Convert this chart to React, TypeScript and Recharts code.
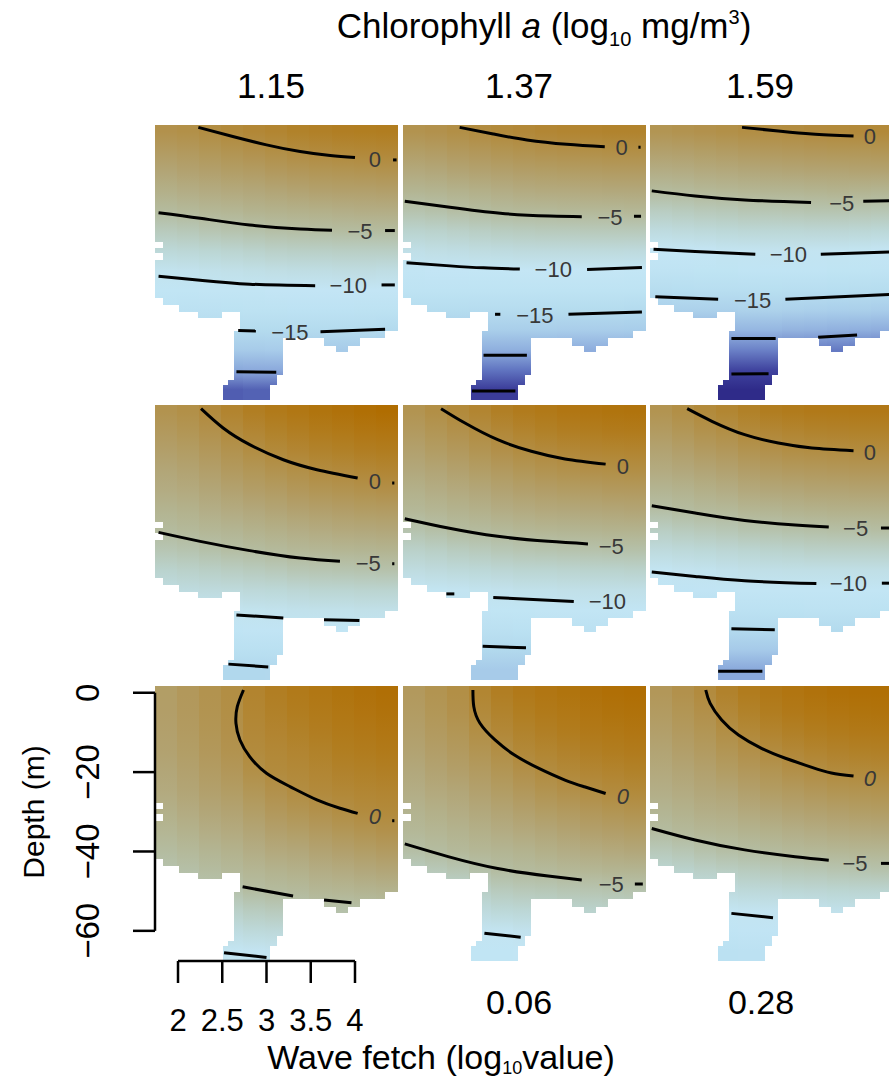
import React from "react";
import {
  ComposedChart,
  XAxis,
  YAxis,
  Line,
  Scatter,
  ReferenceArea,
  ReferenceLine,
} from "recharts";

// plot domain shared by all nine panels
const X_MIN = 1.74;
const X_MAX = 4.486;
const D_MIN = -67.6;
const D_MAX = 1.7;

const fetchTicks = [2, 2.5, 3, 3.5, 4];
const depthTicks = [0, -20, -40, -60];

const chlLabels = ["1.15", "1.37", "1.59"];
const bottomLabels = ["", "0.06", "0.28"];

// heatmap columns (centre, log10 fetch) and depth nodes (m)
const columnCentres = [1.86, 2.11, 2.36, 2.61, 2.86, 3.11, 3.36, 3.61, 3.86, 4.11, 4.36];
const depthNodes = [0, -5, -10, -15, -20, -25, -30, -35, -40, -45, -50, -55, -60, -65];

// cells without data (white): [x1, x2, top depth, bottom depth]
const noData: [number, number, number, number][] = [
  [1.74, 1.816, -27.8, -29.3],
  [1.74, 1.816, -30.6, -32.3],
  [1.74, 1.816, -41.9, -67.6],
  [1.816, 2.003, -43.6, -67.6],
  [2.003, 2.211, -45.3, -67.6],
  [2.211, 2.494, -47.0, -67.6],
  [2.494, 2.557, -45.3, -63.8],
  [2.557, 2.625, -45.3, -62.5],
  [2.625, 2.693, -45.3, -50.3],
  [3.039, 3.115, -63.8, -67.6],
  [3.115, 3.19, -61.2, -67.6],
  [3.19, 3.642, -52.0, -67.6],
  [3.642, 3.774, -53.9, -67.6],
  [3.774, 3.924, -55.6, -67.6],
  [3.924, 4.056, -53.9, -67.6],
  [4.056, 4.339, -52.0, -67.6],
  [4.339, 4.486, -50.3, -67.6],
];

type Grid = (number | null)[][];
type Pt = [number, number];
type Lab = [number, number, string];

// rows = depthNodes, columns = columnCentres
const fieldR0C0: Grid = [
  [-0.6, -0.4, -0.1, 0.3, 0.6, 0.9, 1.3, 1.5, 1.7, 1.8, 1.9],
  [-1.7, -1.5, -1.2, -0.9, -0.6, -0.3, 0.0, 0.2, 0.4, 0.5, 0.6],
  [-2.8, -2.5, -2.3, -2.0, -1.8, -1.5, -1.3, -1.1, -1.0, -0.9, -0.8],
  [-3.8, -3.6, -3.4, -3.2, -3.0, -2.8, -2.6, -2.4, -2.3, -2.3, -2.2],
  [-4.9, -4.7, -4.5, -4.4, -4.1, -4.0, -3.9, -3.8, -3.7, -3.6, -3.6],
  [-6.4, -6.2, -5.9, -5.7, -5.5, -5.3, -5.2, -5.1, -5.0, -5.0, -5.0],
  [-7.9, -7.8, -7.6, -7.4, -7.2, -7.0, -6.9, -6.9, -6.8, -6.8, -6.8],
  [-9.5, -9.4, -9.2, -9.1, -8.9, -8.8, -8.7, -8.7, -8.6, -8.6, -8.7],
  [-11.1, -11.1, -11.0, -10.9, -10.8, -10.6, -10.6, -10.5, -10.5, -10.6, -10.6],
  [-12.7, -13.0, -13.0, -12.9, -12.8, -12.8, -12.7, -12.7, -12.7, -12.8, -12.8],
  [-14.3, -14.9, -14.9, -15.0, -14.9, -14.9, -14.9, -14.9, -14.9, -15.0, -15.1],
  [null, null, null, -17.4, -17.3, -17.2, -17.3, -17.3, -17.3, -17.4, -17.5],
  [null, null, null, -19.8, -19.7, -19.7, null, null, null, null, null],
  [null, null, null, -23.2, -23.0, -23.0, null, null, null, null, null],
];

const fieldR0C1: Grid = [
  [-0.8, -0.6, -0.3, 0.0, 0.3, 0.5, 0.7, 0.9, 1.0, 1.1, 1.1],
  [-2.0, -1.8, -1.5, -1.3, -1.0, -0.8, -0.6, -0.5, -0.4, -0.3, -0.3],
  [-3.2, -3.0, -2.7, -2.5, -2.3, -2.1, -2.0, -1.9, -1.8, -1.7, -1.7],
  [-4.3, -4.2, -4.0, -3.8, -3.6, -3.4, -3.3, -3.3, -3.2, -3.1, -3.1],
  [-5.7, -5.5, -5.2, -5.0, -4.8, -4.7, -4.7, -4.6, -4.6, -4.6, -4.5],
  [-7.3, -7.2, -7.0, -6.8, -6.6, -6.5, -6.4, -6.4, -6.3, -6.3, -6.3],
  [-9.0, -8.8, -8.7, -8.5, -8.4, -8.3, -8.3, -8.3, -8.2, -8.2, -8.3],
  [-10.7, -10.6, -10.5, -10.3, -10.3, -10.2, -10.1, -10.1, -10.1, -10.2, -10.3],
  [-12.6, -12.5, -12.5, -12.5, -12.4, -12.4, -12.4, -12.5, -12.5, -12.6, -12.6],
  [-14.4, -14.5, -14.5, -14.6, -14.6, -14.6, -14.7, -14.8, -14.8, -14.8, -14.9],
  [-16.7, -16.7, -16.7, -16.9, -16.9, -16.9, -16.9, -17.0, -17.0, -17.0, -17.1],
  [null, null, null, -19.4, -19.4, -19.4, -19.4, -19.5, -19.5, -19.5, -19.6],
  [null, null, null, -22.1, -22.1, -22.1, null, null, null, null, null],
  [null, null, null, -24.8, -24.8, -24.8, null, null, null, null, null],
];

const fieldR0C2: Grid = [
  [-1.0, -0.8, -0.6, -0.4, -0.2, -0.1, 0.0, 0.2, 0.3, 0.35, 0.4],
  [-2.3, -2.2, -2.0, -1.8, -1.6, -1.5, -1.4, -1.3, -1.2, -1.2, -1.1],
  [-3.6, -3.5, -3.3, -3.2, -3.0, -2.9, -2.8, -2.7, -2.7, -2.6, -2.6],
  [-4.9, -4.8, -4.6, -4.5, -4.4, -4.3, -4.3, -4.2, -4.1, -4.2, -4.3],
  [-6.7, -6.5, -6.3, -6.2, -6.0, -6.0, -5.9, -5.8, -5.8, -5.9, -6.0],
  [-8.4, -8.2, -8.1, -7.9, -7.8, -7.8, -7.8, -7.7, -7.7, -7.8, -7.9],
  [-10.1, -10.0, -9.9, -9.7, -9.7, -9.6, -9.6, -9.7, -9.7, -9.8, -9.9],
  [-12.2, -12.1, -12.0, -11.9, -11.8, -11.8, -11.8, -11.8, -11.9, -12.0, -12.2],
  [-14.3, -14.2, -14.1, -14.0, -14.0, -13.9, -14.0, -14.1, -14.2, -14.3, -14.5],
  [-16.7, -16.5, -16.4, -16.4, -16.3, -16.3, -16.4, -16.6, -16.7, -16.8, -17.0],
  [-19.0, -19.0, -18.9, -18.9, -18.9, -18.9, -19.1, -19.2, -19.3, -19.4, -19.5],
  [null, null, null, -21.6, -21.6, -21.6, -21.7, -21.8, -21.9, -22.0, -22.1],
  [null, null, null, -24.4, -24.4, -24.4, null, null, null, null, null],
  [null, null, null, -27.2, -27.2, -27.2, null, null, null, null, null],
];

const fieldR1C0: Grid = [
  [-0.8, -0.4, 0.2, 1.0, 1.7, 2.3, 2.8, 3.3, 3.7, 4.1, 4.4],
  [-1.5, -1.1, -0.6, 0.1, 0.7, 1.3, 1.7, 2.2, 2.5, 2.9, 3.1],
  [-2.2, -1.9, -1.4, -0.8, -0.2, 0.3, 0.7, 1.1, 1.4, 1.7, 1.9],
  [-2.9, -2.6, -2.2, -1.6, -1.2, -0.8, -0.4, 0.0, 0.2, 0.5, 0.7],
  [-3.5, -3.3, -2.9, -2.5, -2.1, -1.8, -1.4, -1.1, -0.9, -0.7, -0.5],
  [-4.2, -4.0, -3.7, -3.4, -3.1, -2.8, -2.5, -2.3, -2.1, -1.9, -1.8],
  [-4.9, -4.7, -4.5, -4.3, -4.0, -3.8, -3.6, -3.4, -3.2, -3.1, -3.0],
  [-6.0, -5.8, -5.5, -5.2, -5.0, -4.8, -4.6, -4.5, -4.4, -4.3, -4.2],
  [-7.3, -7.1, -6.9, -6.7, -6.5, -6.3, -6.0, -5.9, -5.8, -5.7, -5.6],
  [-8.6, -8.4, -8.3, -8.2, -8.0, -7.9, -7.7, -7.5, -7.5, -7.4, -7.4],
  [-9.8, -9.7, -9.7, -9.6, -9.5, -9.4, -9.3, -9.2, -9.2, -9.1, -9.1],
  [null, null, null, -11.5, -11.4, -11.3, -11.2, -11.0, -11.0, -11.0, -11.0],
  [null, null, null, -13.5, -13.5, -13.4, null, null, null, null, null],
  [null, null, null, -15.5, -15.5, -15.4, null, null, null, null, null],
];

const fieldR1C1: Grid = [
  [-0.9, -0.3, 0.3, 0.9, 1.6, 2.1, 2.5, 2.9, 3.1, 3.3, 3.4],
  [-1.6, -1.1, -0.6, -0.1, 0.5, 1.0, 1.4, 1.7, 1.9, 2.1, 2.2],
  [-2.4, -1.9, -1.5, -1.0, -0.5, -0.1, 0.2, 0.5, 0.7, 0.8, 0.9],
  [-3.1, -2.8, -2.4, -2.0, -1.6, -1.2, -0.9, -0.7, -0.5, -0.4, -0.3],
  [-3.9, -3.6, -3.3, -3.0, -2.6, -2.3, -2.1, -1.9, -1.8, -1.6, -1.6],
  [-4.6, -4.4, -4.1, -3.9, -3.6, -3.4, -3.2, -3.1, -3.0, -2.9, -2.8],
  [-5.7, -5.4, -5.0, -4.9, -4.7, -4.5, -4.4, -4.3, -4.2, -4.1, -4.1],
  [-7.1, -6.9, -6.6, -6.4, -6.1, -5.9, -5.8, -5.7, -5.6, -5.5, -5.5],
  [-8.5, -8.3, -8.1, -7.9, -7.7, -7.5, -7.5, -7.4, -7.3, -7.3, -7.2],
  [-9.9, -9.8, -9.7, -9.5, -9.4, -9.2, -9.2, -9.1, -9.0, -9.0, -9.0],
  [-11.7, -11.6, -11.5, -11.4, -11.2, -11.1, -11.0, -10.9, -10.9, -10.9, -10.9],
  [null, null, null, -13.3, -13.3, -13.2, -13.1, -13.0, -13.0, -13.0, -12.9],
  [null, null, null, -15.3, -15.3, -15.3, null, null, null, null, null],
  [null, null, null, -17.3, -17.3, -17.3, null, null, null, null, null],
];

const fieldR1C2: Grid = [
  [-0.9, -0.3, 0.3, 0.8, 1.4, 1.9, 2.2, 2.4, 2.5, 2.6, 2.6],
  [-1.7, -1.2, -0.7, -0.3, 0.3, 0.6, 0.9, 1.1, 1.2, 1.3, 1.3],
  [-2.6, -2.2, -1.7, -1.4, -0.9, -0.6, -0.3, -0.2, -0.1, 0.0, 0.0],
  [-3.4, -3.1, -2.8, -2.5, -2.1, -1.8, -1.6, -1.5, -1.4, -1.3, -1.3],
  [-4.3, -4.1, -3.8, -3.6, -3.2, -3.0, -2.9, -2.7, -2.7, -2.6, -2.6],
  [-5.3, -5.0, -4.8, -4.7, -4.4, -4.3, -4.1, -4.0, -3.9, -3.9, -3.9],
  [-6.8, -6.5, -6.3, -6.1, -5.8, -5.7, -5.5, -5.4, -5.3, -5.3, -5.2],
  [-8.3, -8.1, -7.9, -7.7, -7.5, -7.3, -7.2, -7.0, -7.0, -7.0, -7.0],
  [-9.8, -9.6, -9.5, -9.3, -9.1, -9.0, -8.9, -8.9, -8.9, -8.9, -8.9],
  [-11.8, -11.5, -11.3, -11.1, -11.0, -10.9, -10.8, -10.7, -10.7, -10.7, -10.8],
  [-13.8, -13.6, -13.4, -13.1, -13.0, -12.9, -12.9, -12.8, -12.8, -12.8, -12.9],
  [null, null, null, -15.1, -15.1, -15.1, -15.1, -15.0, -15.0, -15.0, -15.1],
  [null, null, null, -17.5, -17.5, -17.5, null, null, null, null, null],
  [null, null, null, -19.8, -19.8, -19.8, null, null, null, null, null],
];

const fieldR2C0: Grid = [
  [-2.0, -1.4, -0.8, -0.2, 1.0, 1.7, 2.3, 2.8, 3.3, 3.7, 4.0],
  [-2.1, -1.5, -0.9, -0.3, 0.75, 1.35, 1.9, 2.35, 2.85, 3.2, 3.5],
  [-2.3, -1.7, -1.1, -0.5, 0.45, 0.95, 1.4, 1.85, 2.35, 2.6, 2.9],
  [-2.5, -2.0, -1.4, -0.8, 0.15, 0.55, 0.9, 1.3, 1.8, 2.0, 2.3],
  [-2.9, -2.4, -1.8, -1.3, -0.4, 0.15, 0.4, 0.75, 1.2, 1.4, 1.6],
  [-3.3, -2.8, -2.3, -1.9, -1.2, -0.6, -0.1, 0.25, 0.55, 0.75, 0.9],
  [-3.8, -3.4, -2.9, -2.6, -2.0, -1.4, -1.0, -0.6, -0.2, 0.1, 0.3],
  [-4.4, -4.0, -3.6, -3.3, -2.8, -2.3, -2.0, -1.6, -1.2, -0.9, -0.6],
  [-5.0, -4.7, -4.3, -4.0, -3.6, -3.2, -3.0, -2.6, -2.3, -2.0, -1.7],
  [-5.7, -5.4, -5.0, -4.7, -4.4, -4.1, -3.9, -3.6, -3.4, -3.1, -2.9],
  [-6.4, -6.1, -5.8, -5.6, -5.1, -4.9, -4.8, -4.5, -4.4, -4.2, -4.1],
  [null, null, null, -7.0, -6.6, -6.4, -5.8, -5.5, -5.5, -5.4, -5.3],
  [null, null, null, -8.4, -8.1, -8.0, null, null, null, null, null],
  [null, null, null, -9.8, -9.7, -9.6, null, null, null, null, null],
];

const fieldR2C1: Grid = [
  [-1.5, -0.9, -0.3, 0.8, 1.7, 2.4, 2.9, 3.3, 3.7, 4.0, 4.2],
  [-1.8, -1.2, -0.6, 0.3, 1.1, 1.8, 2.3, 2.7, 3.1, 3.4, 3.6],
  [-2.2, -1.6, -1.1, -0.3, 0.5, 1.1, 1.6, 2.0, 2.4, 2.7, 2.9],
  [-2.6, -2.1, -1.6, -1.0, -0.3, 0.4, 0.8, 1.2, 1.6, 1.9, 2.1],
  [-3.1, -2.6, -2.2, -1.7, -1.1, -0.5, 0.0, 0.4, 0.7, 1.0, 1.3],
  [-3.6, -3.2, -2.9, -2.4, -1.9, -1.4, -0.9, -0.5, -0.2, 0.1, 0.3],
  [-4.1, -3.8, -3.5, -3.1, -2.7, -2.3, -1.9, -1.6, -1.3, -1.0, -0.8],
  [-4.6, -4.4, -4.1, -3.8, -3.5, -3.2, -2.9, -2.6, -2.3, -2.1, -1.9],
  [-5.3, -5.0, -4.7, -4.5, -4.3, -4.1, -3.8, -3.6, -3.4, -3.2, -3.0],
  [-6.6, -6.3, -6.0, -5.5, -5.1, -4.9, -4.8, -4.6, -4.5, -4.3, -4.3],
  [-8.0, -7.8, -7.5, -6.9, -6.5, -6.3, -6.2, -6.0, -5.9, -5.8, -5.7],
  [null, null, null, -8.3, -7.9, -7.8, -7.6, -7.4, -7.3, -7.2, -7.1],
  [null, null, null, -9.7, -9.7, -9.4, null, null, null, null, null],
  [null, null, null, -11.1, -11.1, -11.0, null, null, null, null, null],
];

const fieldR2C2: Grid = [
  [-1.3, -0.6, 0.1, 1.2, 2.0, 2.6, 3.1, 3.5, 3.8, 4.0, 4.1],
  [-1.7, -1.1, -0.5, 0.5, 1.3, 1.9, 2.4, 2.8, 3.1, 3.3, 3.4],
  [-2.2, -1.6, -1.1, -0.3, 0.4, 1.0, 1.5, 1.9, 2.2, 2.4, 2.5],
  [-2.7, -2.2, -1.7, -1.1, -0.5, 0.0, 0.5, 0.9, 1.2, 1.4, 1.5],
  [-3.2, -2.8, -2.4, -1.9, -1.4, -1.0, -0.5, -0.2, 0.1, 0.3, 0.4],
  [-3.7, -3.4, -3.0, -2.8, -2.3, -1.9, -1.6, -1.3, -1.0, -0.9, -0.8],
  [-4.3, -4.0, -3.7, -3.6, -3.2, -2.9, -2.6, -2.4, -2.2, -2.0, -1.9],
  [-5.0, -4.7, -4.5, -4.4, -4.1, -3.9, -3.7, -3.5, -3.3, -3.2, -3.1],
  [-6.3, -6.0, -5.6, -5.3, -5.1, -4.9, -4.7, -4.6, -4.5, -4.4, -4.4],
  [-7.6, -7.3, -7.0, -6.8, -6.6, -6.4, -6.2, -6.1, -5.9, -5.8, -5.7],
  [-8.9, -8.7, -8.5, -8.3, -8.1, -8.0, -7.8, -7.7, -7.6, -7.5, -7.5],
  [null, null, null, -9.8, -9.7, -9.6, -9.5, -9.4, -9.3, -9.2, -9.2],
  [null, null, null, -11.5, -11.4, -11.4, null, null, null, null, null],
  [null, null, null, -13.2, -13.1, -13.1, null, null, null, null, null],
];

// contour lines: [log10 fetch, depth]
const contoursR0C0: Pt[][] = [
  [[2.23, 1.1], [2.63, -1.25], [3.0, -3.3], [3.38, -5.0], [3.72, -6.0], [4.0, -6.5]],
  [[4.43, -7.1], [4.47, -7.1]],
  [[1.78, -20.4], [2.25, -21.8], [2.81, -23.5], [3.38, -24.5], [3.74, -24.8]],
  [[4.34, -24.9], [4.45, -24.9]],
  [[1.78, -36.4], [2.25, -37.4], [2.81, -38.4], [3.55, -38.8]],
  [[4.3, -38.6], [4.45, -38.6]],
  [[2.68, -50.1], [2.88, -50.2]],
  [[3.61, -50.4], [4.34, -49.8]],
  [[2.66, -60.5], [3.11, -60.6]],
];
const contoursR0C1: Pt[][] = [
  [[2.38, 1.1], [2.76, -0.57], [3.14, -2.08], [3.59, -3.17], [4.02, -3.77]],
  [[4.4, -3.9], [4.425, -3.9]],
  [[1.76, -17.5], [2.27, -19.05], [2.84, -20.56], [3.4, -21.24], [3.76, -21.4]],
  [[4.35, -21.3], [4.43, -21.3]],
  [[1.78, -33.0], [2.27, -33.8], [2.65, -34.3], [3.06, -34.6]],
  [[3.82, -34.7], [4.44, -34.2]],
  [[2.78, -46.0], [2.84, -46.0]],
  [[3.61, -46.0], [4.44, -45.4]],
  [[2.65, -56.3], [3.14, -56.3]],
  [[2.52, -65.35], [3.01, -65.35]],
];
const contoursR0C2: Pt[][] = [
  [[2.78, 1.1], [3.19, 0.19], [3.57, -0.57], [4.04, -1.07]],
  [[1.76, -14.9], [2.25, -16.2], [2.81, -17.2], [3.56, -17.8]],
  [[4.15, -17.5], [4.45, -17.4]],
  [[1.78, -29.6], [2.25, -30.2], [2.93, -30.9]],
  [[3.67, -30.9], [4.45, -30.3]],
  [[1.8, -41.6], [2.51, -42.2]],
  [[3.27, -42.2], [4.45, -41.0]],
  [[2.66, -52.1], [3.16, -52.1]],
  [[3.64, -51.8], [4.08, -51.2]],
  [[2.66, -61.05], [3.08, -61.0]],
];
const contoursR1C0: Pt[][] = [
  [[2.26, 0.78], [2.51, -4.1], [2.81, -8.3], [3.19, -12.1], [3.57, -14.6], [4.03, -16.7]],
  [[4.42, -17.96], [4.445, -17.96]],
  [[1.78, -30.4], [2.25, -32.66], [2.81, -35.0], [3.38, -36.87], [3.83, -37.7]],
  [[4.42, -38.3], [4.445, -38.3]],
  [[2.66, -51.2], [3.19, -52.0]],
  [[3.65, -52.4], [4.05, -52.6]],
  [[2.57, -63.6], [3.02, -64.3]],
];
const contoursR1C1: Pt[][] = [
  [[2.17, 0.78], [2.44, -2.84], [2.81, -7.04], [3.19, -9.97], [3.57, -11.9], [4.03, -13.2]],
  [[1.76, -26.95], [2.25, -29.3], [2.81, -31.4], [3.38, -32.66], [3.83, -33.3]],
  [[2.23, -45.9], [2.32, -45.9]],
  [[2.76, -46.8], [3.67, -47.8]],
  [[2.64, -59.1], [3.13, -59.5]],
];
const contoursR1C2: Pt[][] = [
  [[2.16, 0.78], [2.44, -2.4], [2.81, -5.78], [3.19, -7.88], [3.57, -9.14], [4.04, -9.8]],
  [[1.76, -23.7], [2.25, -25.5], [2.81, -27.4], [3.38, -28.55], [3.76, -29.05]],
  [[4.35, -29.3], [4.45, -29.3]],
  [[1.76, -40.4], [2.25, -41.5], [2.81, -42.6], [3.62, -43.3]],
  [[4.36, -43.2], [4.45, -43.2]],
  [[2.66, -54.7], [3.15, -54.94]],
  [[2.51, -65.4], [3.01, -65.4]],
];
const contoursR2C0: Pt[][] = [
  [[2.74, 0.69], [2.67, -3.52], [2.655, -7.7], [2.7, -11.9], [2.81, -16.1], [3.0, -20.3], [3.27, -23.7], [3.57, -27.0], [3.83, -29.1], [4.03, -30.4]],
  [[4.42, -32.25], [4.445, -32.25]],
  [[2.73, -48.9], [3.3, -51.2]],
  [[3.65, -52.2], [3.96, -52.9]],
  [[2.52, -65.5], [3.0, -66.7]],
];
const contoursR2C1: Pt[][] = [
  [[2.53, 0.69], [2.54, -3.5], [2.61, -7.7], [2.78, -11.9], [3.0, -15.7], [3.27, -19.0], [3.57, -22.0], [3.79, -23.7], [4.03, -25.4]],
  [[1.76, -38.1], [2.25, -41.3], [2.81, -44.3], [3.38, -46.2], [3.76, -47.2]],
  [[4.36, -48.2], [4.45, -48.2]],
  [[2.66, -60.6], [3.07, -61.6]],
];
const contoursR2C2: Pt[][] = [
  [[2.37, 0.69], [2.42, -2.66], [2.55, -6.87], [2.74, -10.65], [3.0, -14.0], [3.27, -16.5], [3.57, -18.8], [3.79, -20.2], [4.04, -21.0]],
  [[1.76, -34.2], [2.25, -37.1], [2.81, -39.6], [3.38, -41.3], [3.76, -42.2]],
  [[4.35, -43.0], [4.45, -43.0]],
  [[2.66, -55.6], [3.13, -56.7]],
];

// contour labels: [log10 fetch, depth, text]
const labelsR0C0: Lab[] = [[4.226, -7.0, "0"], [4.056, -25.2, "−5"], [3.924, -38.8, "−10"], [3.265, -50.5, "−15"]];
const labelsR0C1: Lab[] = [[4.211, -3.9, "0"], [4.079, -21.5, "−5"], [3.438, -34.7, "−10"], [3.231, -46.2, "−15"]];
const labelsR0C2: Lab[] = [[4.226, -1.24, "0"], [3.906, -18.0, "−5"], [3.303, -30.9, "−10"], [2.9, -42.4, "−15"]];
const labelsR1C0: Lab[] = [[4.226, -17.5, "0"], [4.15, -38.3, "−5"]];
const labelsR1C1: Lab[] = [[4.226, -13.75, "0"], [4.094, -33.9, "−5"], [4.049, -47.8, "−10"]];
const labelsR1C2: Lab[] = [[4.226, -10.2, "0"], [4.064, -29.3, "−5"], [3.981, -43.3, "−10"]];
const labelsR2C0: Lab[] = [[4.226, -31.2, "0"]];
const labelsR2C1: Lab[] = [[4.226, -26.2, "0"], [4.094, -48.2, "−5"]];
const labelsR2C2: Lab[] = [[4.226, -21.6, "0"], [4.056, -43.0, "−5"]];

const panels = [
  { field: fieldR0C0, contours: contoursR0C0, labels: labelsR0C0 },
  { field: fieldR0C1, contours: contoursR0C1, labels: labelsR0C1 },
  { field: fieldR0C2, contours: contoursR0C2, labels: labelsR0C2 },
  { field: fieldR1C0, contours: contoursR1C0, labels: labelsR1C0 },
  { field: fieldR1C1, contours: contoursR1C1, labels: labelsR1C1 },
  { field: fieldR1C2, contours: contoursR1C2, labels: labelsR1C2 },
  { field: fieldR2C0, contours: contoursR2C0, labels: labelsR2C0 },
  { field: fieldR2C1, contours: contoursR2C1, labels: labelsR2C1 },
  { field: fieldR2C2, contours: contoursR2C2, labels: labelsR2C2 },
];

// layout
const COL_LEFT = [155, 403, 650];
const ROW_TOP = [125, 405, 686];
const PANEL_W = 243;
const PANEL_H = 275;
const AXIS_PAD = 30; // room above the bottom-left panel for the "0" tick label
const FONT = "'Liberation Sans', Arial, Helvetica, sans-serif";

// brown -> pale blue -> navy
const colourStops: [number, number, number, number][] = [
  [-28, 44, 38, 132],
  [-25, 56, 56, 150],
  [-22.5, 90, 108, 188],
  [-20, 136, 166, 218],
  [-17.5, 166, 202, 233],
  [-15, 180, 219, 238],
  [-12.5, 190, 227, 243],
  [-10, 196, 230, 245],
  [-7.5, 187, 213, 210],
  [-5, 180, 188, 160],
  [-2.5, 178, 162, 112],
  [0, 178, 140, 64],
  [2, 177, 124, 30],
  [4.5, 176, 108, 0],
];

function valueColour(v: number): string {
  const s = colourStops;
  if (v <= s[0][0]) return `rgb(${s[0][1]},${s[0][2]},${s[0][3]})`;
  for (let i = 1; i < s.length; i++) {
    if (v <= s[i][0]) {
      const t = (v - s[i - 1][0]) / (s[i][0] - s[i - 1][0]);
      const c = [1, 2, 3].map((k) => Math.round(s[i - 1][k] + t * (s[i][k] - s[i - 1][k])));
      return `rgb(${c[0]},${c[1]},${c[2]})`;
    }
  }
  const l = s[s.length - 1];
  return `rgb(${l[1]},${l[2]},${l[3]})`;
}

function HeatmapDefs() {
  return (
    <defs>
      {panels.map((p, pi) =>
        columnCentres.map((_, c) => (
          <linearGradient key={`${pi}-${c}`} id={`hm-${pi}-${c}`} x1="0" y1="0" x2="0" y2="1">
            {depthNodes.map((d, i) => {
              const v = p.field[i][c];
              if (v == null) return null;
              return <stop key={i} offset={(D_MAX - d) / (D_MAX - D_MIN)} stopColor={valueColour(v)} />;
            })}
          </linearGradient>
        ))
      )}
    </defs>
  );
}

const FetchTick = (props: any) => (
  <text x={props.x} y={props.y + 37} textAnchor="middle" dominantBaseline="central" fontSize={31} fontFamily={FONT} fill="#000">
    {props.payload.value}
  </text>
);

const DepthTick = (props: any) => {
  const v = props.payload.value;
  const cx = props.x - 45;
  const cy = props.y;
  return (
    <text x={cx} y={cy} transform={`rotate(-90 ${cx} ${cy})`} textAnchor="middle" dominantBaseline="central" fontSize={33} fontFamily={FONT} fill="#000">
      {v === 0 ? "0" : `−${Math.abs(v)}`}
    </text>
  );
};

function Panel({ index }: { index: number }) {
  const p = panels[index];
  const row = Math.floor(index / 3);
  const col = index % 3;
  const withAxes = row === 2 && col === 0;
  const left = withAxes ? 0 : COL_LEFT[col];
  const top = withAxes ? ROW_TOP[row] - AXIS_PAD : ROW_TOP[row];
  const width = withAxes ? COL_LEFT[0] + PANEL_W : PANEL_W;
  const height = withAxes ? 1081 - top : PANEL_H;
  const labelData = p.labels.map(([x, d, text]) => ({ x, d, text }));

  return (
    <div style={{ position: "absolute", left, top }}>
      <ComposedChart
        width={width}
        height={height}
        margin={{ top: withAxes ? AXIS_PAD : 0, right: 0, bottom: 0, left: 0 }}
      >
        <XAxis
          type="number"
          dataKey="x"
          domain={[X_MIN, X_MAX]}
          allowDataOverflow
          hide={!withAxes}
          height={120}
          ticks={fetchTicks}
          interval={0}
          tickSize={22}
          tickMargin={0}
          axisLine={false}
          tickLine={{ stroke: "#000", strokeWidth: 2.5 }}
          tick={FetchTick}
        />
        <YAxis
          type="number"
          dataKey="d"
          domain={[D_MIN, D_MAX]}
          allowDataOverflow
          hide={!withAxes}
          width={155}
          ticks={depthTicks}
          interval={0}
          tickSize={22}
          tickMargin={0}
          axisLine={false}
          tickLine={{ stroke: "#000", strokeWidth: 2.5 }}
          tick={DepthTick}
        />
        {columnCentres.map((xc, c) => (
          <ReferenceArea
            key={`col-${c}`}
            x1={Math.max(X_MIN, xc - 0.125)}
            x2={Math.min(X_MAX, xc + 0.137)}
            y1={D_MAX}
            y2={D_MIN}
            fill={`url(#hm-${index}-${c})`}
            fillOpacity={1}
            stroke="none"
            shapeRendering="crispEdges"
            ifOverflow="visible"
          />
        ))}
        {noData.map(([x1, x2, top, bottom], k) => (
          <ReferenceArea
            key={`nd-${k}`}
            x1={x1}
            x2={Math.min(X_MAX, x2 + 0.012)}
            y1={top}
            y2={bottom}
            fill="#fff"
            fillOpacity={1}
            stroke="none"
            shapeRendering="crispEdges"
            ifOverflow="visible"
          />
        ))}
        {withAxes && (
          <ReferenceLine
            segment={[{ x: X_MIN, y: 0 }, { x: X_MIN, y: -60 }]}
            stroke="#000"
            strokeWidth={2.5}
            ifOverflow="visible"
          />
        )}
        {withAxes && (
          <ReferenceLine
            segment={[{ x: 2, y: D_MIN }, { x: 4, y: D_MIN }]}
            stroke="#000"
            strokeWidth={2.5}
            ifOverflow="visible"
          />
        )}
        {p.contours.map((pts, k) => (
          <Line
            key={`ct-${k}`}
            data={pts.map(([x, d]) => ({ x, d }))}
            dataKey="d"
            type="natural"
            stroke="#000"
            strokeWidth={3}
            dot={false}
            activeDot={false}
            isAnimationActive={false}
          />
        ))}
        <Scatter
          data={labelData}
          isAnimationActive={false}
          shape={(s: any) => (
            <text
              x={s.cx}
              y={s.cy}
              textAnchor="middle"
              dominantBaseline="central"
              fontSize={22}
              fontFamily={FONT}
              fontStyle={row === 2 && s.payload.text === "0" ? "italic" : "normal"}
              fill="#383838"
            >
              {s.payload.text}
            </text>
          )}
        />
      </ComposedChart>
    </div>
  );
}

export default function App() {
  return (
    <div
      style={{
        position: "absolute",
        left: 0,
        top: 0,
        width: 889,
        height: 1081,
        overflow: "hidden",
        background: "#fff",
        fontFamily: FONT,
      }}
    >
      {panels.map((_, i) => (
        <Panel key={i} index={i} />
      ))}
      <svg width={889} height={1081} style={{ position: "absolute", left: 0, top: 0, pointerEvents: "none" }}>
        <HeatmapDefs />
        <text x={544} y={38} textAnchor="middle" fontSize={35} fontFamily={FONT} fill="#000">
          Chlorophyll <tspan fontStyle="italic">a</tspan> (log
          <tspan fontSize={20} dy={8}>10</tspan>
          <tspan dy={-8}> mg/m</tspan>
          <tspan fontSize={20} dy={-14}>3</tspan>
          <tspan dy={14}>)</tspan>
        </text>
        {chlLabels.map((t, i) => (
          <text key={t} x={[271, 519, 760][i]} y={98} textAnchor="middle" fontSize={35} fontFamily={FONT} fill="#000">
            {t}
          </text>
        ))}
        {bottomLabels.map((t, i) =>
          t ? (
            <text key={t} x={[271, 519, 761][i]} y={1014} textAnchor="middle" fontSize={34} fontFamily={FONT} fill="#000">
              {t}
            </text>
          ) : null
        )}
        <text x={441} y={1069} textAnchor="middle" fontSize={34} fontFamily={FONT} fill="#000">
          Wave fetch (log<tspan fontSize={18} dy={5}>10</tspan>
          <tspan dy={-5}>value)</tspan>
        </text>
        <text
          x={33}
          y={812}
          transform="rotate(-90 33 812)"
          textAnchor="middle"
          dominantBaseline="central"
          fontSize={30}
          fontFamily={FONT}
          fill="#000"
        >
          Depth (m)
        </text>
      </svg>
    </div>
  );
}
